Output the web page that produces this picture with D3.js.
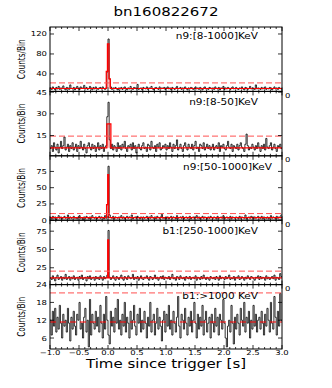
<!DOCTYPE html>
<html>
<head>
<meta charset="utf-8">
<script src="https://cdn.jsdelivr.net/npm/d3@7"></script>
<style>
  body { margin: 0; background: #fff; }
  text { font-family: "DejaVu Sans", sans-serif; }
</style>
</head>
<body>
<svg id="chart" width="332" height="388"></svg>
<script>
// Light curve bins: 0.02 s wide, starting at t = -1.0 s
const binStart = -1.0;
const binWidth = 0.02;

const counts1 = [
  12,9,14,11,8,13,10,15,9,12,11,16,10,8,13,12,9,18,11,10,
  13,8,12,15,10,9,14,11,12,17,10,13,9,11,15,12,8,13,10,14,
  11,9,12,13,10,14,11,9,12,44,110,30,14,9,12,11,13,10,8,12,
  10,13,9,12,14,11,8,12,10,15,11,9,13,12,10,19,9,11,12,8,
  13,11,10,14,9,12,11,15,10,8,12,13,11,9,14,10,12,11,13,9,
  11,14,10,12,8,13,11,9,12,15,10,11,13,9,12,10,14,11,8,12,
  10,13,12,9,11,14,10,12,9,13,11,8,12,14,10,11,9,13,12,10,
  12,9,14,11,10,13,8,12,11,15,9,12,10,13,11,9,12,14,10,11,
  13,10,9,12,11,14,10,8,13,12,9,11,15,10,12,11,9,18,10,12,
  11,9,13,10,12,14,9,11,10,13,12,8,11,14,10,12,9,13,11,10
];
const counts2 = [
  6,8,4,10,7,5,9,3,7,11,6,8,14,5,7,9,4,8,6,10,
  5,7,9,4,8,6,11,7,5,9,6,3,8,10,7,5,9,6,8,4,
  7,10,5,8,6,9,4,7,8,28,38,12,6,9,5,8,7,4,10,6,
  8,5,9,7,11,6,4,8,7,9,5,10,6,8,3,7,9,6,5,8,
  10,6,7,4,9,8,5,11,7,6,8,4,9,7,10,5,6,8,7,9,
  5,8,6,10,7,4,9,6,8,12,5,7,9,6,4,8,10,7,5,9,
  7,6,9,5,8,11,6,7,4,9,8,6,10,5,7,9,6,8,5,7,
  9,5,7,8,6,10,4,8,7,9,6,5,8,11,7,6,9,4,8,7,
  6,9,5,8,10,7,6,4,9,16,8,5,7,6,9,7,5,8,6,10,
  7,4,8,6,9,5,13,7,6,8,10,5,7,9,6,4,8,7,9,6
];
const counts3 = [
  4,2,6,3,5,1,4,7,3,5,2,4,6,3,4,8,2,5,3,4,
  6,3,4,2,5,7,3,4,1,5,3,6,4,2,5,3,7,4,3,5,
  2,4,6,3,5,4,2,7,3,24,83,8,4,3,6,2,5,4,3,5,
  4,7,3,5,2,4,6,3,5,4,8,2,4,5,3,6,4,2,5,3,
  5,3,4,6,2,5,3,7,4,3,5,2,6,4,3,5,9,3,4,2,
  3,5,2,4,6,3,5,4,2,7,3,4,5,3,6,2,4,5,3,4,
  6,2,4,5,3,4,7,3,5,2,4,6,3,5,4,2,5,3,6,4,
  3,5,4,2,6,3,4,5,3,7,2,4,5,3,4,6,2,5,4,3,
  5,4,2,6,3,5,4,3,8,2,4,5,3,6,4,2,5,3,4,6,
  4,3,6,2,5,4,3,5,2,4,7,3,5,4,2,6,3,5,4,8
];
const counts4 = [
  11,9,14,10,7,12,15,9,11,13,8,12,10,16,9,11,13,8,12,10,
  14,9,11,12,8,13,10,15,9,11,12,7,13,10,14,9,11,12,8,13,
  10,12,9,14,11,8,13,10,12,15,76,12,9,11,14,10,8,13,11,9,
  12,15,10,8,13,11,9,14,12,10,11,16,9,12,10,13,8,11,14,10,
  9,12,11,14,10,8,13,12,9,11,15,10,12,8,11,13,10,14,9,12,
  11,10,13,9,12,16,10,11,8,13,12,9,14,11,10,12,8,13,11,10,
  13,9,11,12,10,14,8,12,11,9,13,10,15,11,9,12,10,8,13,11,
  10,12,9,13,11,8,14,10,12,11,9,13,10,12,15,9,11,10,13,8,
  12,11,14,9,10,13,11,8,12,10,14,11,9,13,12,10,8,12,11,14,
  9,13,10,12,11,8,14,10,12,9,11,13,10,15,8,12,11,9,17,13
];
const counts5 = [
  12,7,15,10,16,8,13,9,17,11,6,14,10,12,8,16,11,5,13,9,
  15,10,7,14,12,18,9,11,6,13,16,8,12,3,19,7,14,11,9,15,
  10,13,8,17,11,6,14,9,20,12,7,4,15,10,13,8,16,11,19,9,
  12,7,14,10,18,8,13,11,6,15,9,12,17,10,7,14,11,16,8,12,
  9,15,11,6,13,10,18,8,12,14,7,11,16,9,13,10,5,12,15,8,
  14,10,17,9,12,7,15,11,8,13,20,10,6,14,12,9,16,11,7,13,
  10,15,8,12,18,11,6,14,9,13,10,17,7,12,15,8,11,13,6,14,
  11,8,16,10,13,7,14,12,9,19,11,6,3,10,12,8,17,11,4,13,
  9,14,11,7,16,12,10,18,8,13,11,15,6,12,9,17,10,14,8,12,
  13,9,15,11,7,14,10,16,12,8,18,11,9,20,13,7,15,10,21,12
];

const panelLabels = ["n9:[8-1000]KeV", "n9:[8-50]KeV", "n9:[50-1000]KeV", "b1:[250-1000]KeV", "b1:>1000 KeV"];
const yDomains = [[5, 134], [1, 45.5], [0, 99], [2, 90], [2.3, 24]];
const yTicks = [[40, 80, 120], [15, 30, 45], [0, 25, 50, 75], [25, 50, 75], [6, 12, 18, 24]];
const bgLevels = [10.8, 6.5, 4, 11.3, 11.4];
const thresholds = [22, 14.6, 10.2, 20.4, 21.2];
// Bayesian blocks above background: [tStart, tEnd, level]
const blocks = [
  [[-0.03, -0.01, 45], [-0.01, 0.017, 100], [0.017, 0.04, 30]],
  [[-0.02, 0.05, 23]],
  [[-0.025, -0.005, 24], [-0.005, 0.012, 70]],
  [[-0.005, 0.012, 63]],
  []
];
const xTicks = [-1.0, -0.5, 0.0, 0.5, 1.0, 1.5, 2.0, 2.5, 3.0];

const allCounts = [counts1, counts2, counts3, counts4, counts5];

const svg = d3.select("#chart");
const left = 50, right = 282, top0 = 27, ph = 64.4;
const squash = 0.8; // the picture's text is flatter than it is wide

const x = d3.scaleLinear().domain([-1, 3]).range([left, right]);

// text helper, flattened vertically
function addText(parent, tx, ty, str, size, anchor) {
  return parent.append("text")
    .attr("transform", "translate(" + tx + "," + ty + ") scale(1," + squash + ")")
    .attr("text-anchor", anchor || "start")
    .attr("font-size", size)
    .text(str);
}

addText(svg, 166, 16, "bn160822672", 15, "middle");

const defs = svg.append("defs");

allCounts.forEach(function(counts, p) {
  const top = top0 + p * ph, bottom = top + ph;
  const y = d3.scaleLinear().domain(yDomains[p]).range([bottom, top]);
  const g = svg.append("g");

  const clipId = "clip" + p;
  defs.append("clipPath").attr("id", clipId)
    .append("rect").attr("x", left).attr("y", top).attr("width", right - left).attr("height", ph);
  const inner = g.append("g").attr("clip-path", "url(#" + clipId + ")");

  // light curve as a step line
  const pts = counts.map(function(c, i) { return [binStart + i * binWidth, c]; });
  pts.push([binStart + counts.length * binWidth, counts[counts.length - 1]]);
  const line = d3.line()
    .x(function(d) { return x(d[0]); })
    .y(function(d) { return y(d[1]); })
    .curve(d3.curveStepAfter);
  inner.append("path")
    .attr("d", line(pts))
    .attr("fill", "none")
    .attr("stroke", "#000")
    .attr("stroke-opacity", 0.8)
    .attr("stroke-width", 1);

  // background + blocks in red
  const bg = bgLevels[p];
  blocks[p].forEach(function(b) {
    inner.append("rect")
      .attr("x", x(b[0])).attr("width", x(b[1]) - x(b[0]))
      .attr("y", y(b[2])).attr("height", y(bg) - y(b[2]))
      .attr("fill", "red").attr("fill-opacity", 0.28);
  });
  const redPts = [[-1, bg]];
  blocks[p].forEach(function(b) { redPts.push([b[0], b[2]]); });
  redPts.push([blocks[p].length ? blocks[p][blocks[p].length - 1][1] : 3, bg]);
  redPts.push([3, bg]);
  inner.append("path")
    .attr("d", line(redPts))
    .attr("fill", "none")
    .attr("stroke", "red")
    .attr("stroke-width", 1.2)
    .attr("stroke-dasharray", p === 4 ? "6,4" : null);

  // threshold
  inner.append("line")
    .attr("x1", left).attr("x2", right)
    .attr("y1", y(thresholds[p])).attr("y2", y(thresholds[p]))
    .attr("stroke", "#ff5050")
    .attr("stroke-width", 1)
    .attr("stroke-dasharray", "6,3");

  // frame
  g.append("rect")
    .attr("x", left).attr("y", top).attr("width", right - left).attr("height", ph)
    .attr("fill", "none").attr("stroke", "#000").attr("stroke-width", 1);

  // x ticks, inward, top and bottom
  d3.range(-1, 3.001, 0.1).forEach(function(t) {
    const isMajor = Math.abs(t * 2 - Math.round(t * 2)) < 1e-6;
    const len = isMajor ? 4 : 2;
    g.append("line").attr("x1", x(t)).attr("x2", x(t)).attr("y1", bottom).attr("y2", bottom - len)
      .attr("stroke", "#000").attr("stroke-width", 0.8);
    g.append("line").attr("x1", x(t)).attr("x2", x(t)).attr("y1", top).attr("y2", top + len)
      .attr("stroke", "#000").attr("stroke-width", 0.8);
  });

  // y ticks, inward, left and right
  yTicks[p].forEach(function(v) {
    g.append("line").attr("x1", left).attr("x2", left + 4).attr("y1", y(v)).attr("y2", y(v))
      .attr("stroke", "#000").attr("stroke-width", 0.8);
    g.append("line").attr("x1", right).attr("x2", right - 4).attr("y1", y(v)).attr("y2", y(v))
      .attr("stroke", "#000").attr("stroke-width", 0.8);
    addText(g, left - 3, y(v) + 2.5, v, 8.5, "end");
  });

  // right side "0"
  if (p > 0) addText(g, 285, top + 6.5, "0", 8.5);

  // panel label
  addText(g, p === 2 ? 272 : 258, top + (p === 0 ? 12 : 14), panelLabels[p], 10.5, "end");

  // y label
  g.append("text")
    .attr("transform", "translate(25," + (top + ph / 2) + ") rotate(-90)")
    .attr("text-anchor", "middle")
    .attr("font-size", 10)
    .attr("textLength", 40)
    .attr("lengthAdjust", "spacingAndGlyphs")
    .text("Counts/Bin");
});

// bottom x tick labels
const lastBottom = top0 + 5 * ph;
xTicks.forEach(function(t) {
  addText(svg, x(t), lastBottom + 5.8, d3.format(".1f")(t).replace("-", "\u2212"), 8.5, "middle");
});

addText(svg, 166, 367.5, "Time since trigger [s]", 15, "middle");
</script>
</body>
</html>
